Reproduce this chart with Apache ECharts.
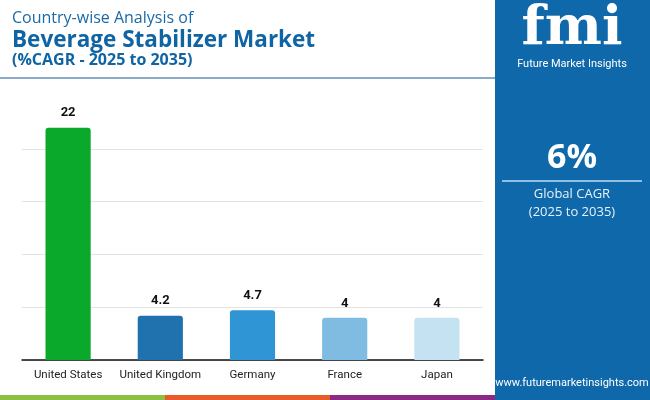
<!DOCTYPE html>
<html>
<head>
<meta charset="utf-8">
<script src="https://cdn.jsdelivr.net/npm/echarts@6/dist/echarts.min.js"></script>
<style>
  html, body { margin: 0; padding: 0; background: #fff; }
  #chart { width: 650px; height: 400px; }
</style>
</head>
<body>
<div id="chart"></div>
<script>
// 数据
const countries = ['United States', 'United Kingdom', 'Germany', 'France', 'Japan'];
const cagrValues = [22, 4.2, 4.7, 4, 4];
const globalCagr = '6%';

const barColors = ['#0aa82b', '#1f72ad', '#2f95d4', '#80bce2', '#c5e2f2'];

const myChart = echarts.init(document.getElementById('chart'));

const option = {
    backgroundColor: '#ffffff',
    animation: false,
    grid: {
        left: 22,
        right: 167,
        top: 96,
        bottom: 40
    },
    xAxis: {
        type: 'category',
        data: countries,
        axisLine: { lineStyle: { color: '#111', width: 1.5 } },
        axisTick: { show: false },
        axisLabel: {
            interval: 0,
            color: '#222',
            fontFamily: 'Roboto',
            fontSize: 11.5,
            margin: 9
        }
    },
    yAxis: {
        type: 'value',
        min: 0,
        max: 25,
        interval: 5,
        axisLabel: { show: false },
        axisLine: { show: false },
        axisTick: { show: false },
        splitLine: {
            showMaxLine: false,
            lineStyle: { color: '#e3e3e3', width: 1 }
        }
    },
    series: [
        {
            type: 'bar',
            barWidth: '49%',
            data: cagrValues.map(function (v, i) {
                return { value: v, itemStyle: { color: barColors[i], borderRadius: [3, 3, 0, 0] } };
            }),
            label: {
                show: true,
                position: 'top',
                distance: 8,
                color: '#111',
                fontFamily: 'Roboto',
                fontWeight: 'bold',
                fontSize: 13
            }
        }
    ],
    graphic: [
        // 标题
        { type: 'text', left: 12, top: 10, style: { text: 'Country-wise Analysis of', fill: '#1a6aa6', font: '16px "Open Sans"' } },
        { type: 'text', left: 12, top: 29, style: { text: 'Beverage Stabilizer Market', fill: '#0f64a3', font: 'bold 22.5px "Open Sans"' } },
        { type: 'text', left: 12, top: 52, style: { text: '(%CAGR - 2025 to 2035)', fill: '#0f64a3', font: 'bold 16px "Open Sans"' } },
        { type: 'rect', left: 0, top: 77, shape: { width: 495, height: 2 }, style: { fill: '#8aabc9' } },
        // 右侧面板
        { type: 'rect', left: 495, top: 0, shape: { width: 155, height: 400 }, style: { fill: '#0f68a9' } },
        { type: 'text', x: 572, y: 30, style: { text: 'fmi', fill: '#ffffff', font: 'bold 54px "DejaVu Serif"', align: 'center', verticalAlign: 'middle' } },
        { type: 'text', x: 572, y: 64, style: { text: 'Future Market Insights', fill: '#ffffff', font: '11px Roboto', align: 'center', verticalAlign: 'middle' } },
        { type: 'text', x: 572, y: 158, style: { text: globalCagr, fill: '#ffffff', font: 'bold 34px "Open Sans"', align: 'center', verticalAlign: 'middle' } },
        { type: 'rect', left: 502, top: 180, shape: { width: 140, height: 2 }, style: { fill: '#8fc0e4' } },
        { type: 'text', x: 572, y: 194, style: { text: 'Global CAGR', fill: '#e8f2fa', font: '13px "Open Sans"', align: 'center', verticalAlign: 'middle' } },
        { type: 'text', x: 572, y: 212, style: { text: '(2025 to 2035)', fill: '#e8f2fa', font: '13px "Open Sans"', align: 'center', verticalAlign: 'middle' } },
        { type: 'text', x: 572, y: 383, style: { text: 'www.futuremarketinsights.com', fill: '#ffffff', font: '11px Roboto', align: 'center', verticalAlign: 'middle' } },
        // 底部色条
        { type: 'rect', left: 0, top: 395, shape: { width: 165, height: 5 }, style: { fill: '#8bc045' } },
        { type: 'rect', left: 165, top: 395, shape: { width: 165, height: 5 }, style: { fill: '#e85a2a' } },
        { type: 'rect', left: 330, top: 395, shape: { width: 165, height: 5 }, style: { fill: '#8a2a84' } }
    ]
};

myChart.setOption(option);
</script>
</body>
</html>
